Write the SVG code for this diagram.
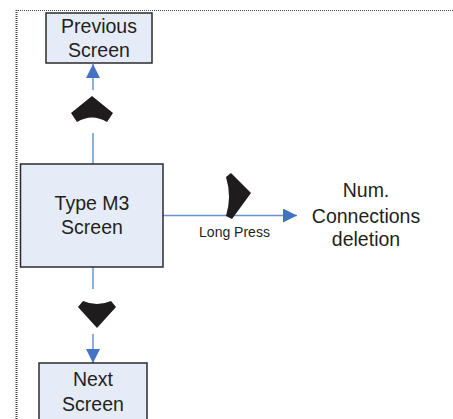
<svg xmlns="http://www.w3.org/2000/svg" width="453" height="419" viewBox="0 0 453 419">
  <style>
    .box { fill: #e6ecf7; stroke: #2b2b2b; stroke-width: 1.5; }
    .lbl { font-family: "Liberation Sans", Arial, sans-serif; font-size: 19.5px; fill: #231f20; text-anchor: middle; }
    .small { font-family: "Liberation Sans", Arial, sans-serif; font-size: 14px; fill: #231f20; text-anchor: middle; }
    .conn { stroke: #6a93cf; stroke-width: 1.5; fill: none; }
    .key { fill: #1e1c1c; }
    .frame { stroke: #4a4a4a; stroke-dasharray: 1 1; fill: none; }
  </style>
  <defs>
    <marker id="arr" markerUnits="userSpaceOnUse" markerWidth="14" markerHeight="14" refX="14" refY="7" orient="auto">
      <path d="M0,0 L14,7 L0,14 Z" fill="#4472c4"/>
    </marker>
  </defs>
  <rect width="453" height="419" fill="#ffffff"/>
  <g id="frame">
    <line class="frame" x1="16" y1="10.5" x2="453" y2="10.5" stroke-width="1.2"/>
    <line class="frame" x1="16.5" y1="10" x2="16.5" y2="419" stroke-width="2"/>
  </g>
  <g id="connectors">
    <path class="conn" d="M93,90 L93,64" marker-end="url(#arr)"/>
    <path class="conn" d="M93,133 L93,164"/>
    <path class="conn" d="M93,267 L93,289"/>
    <path class="conn" d="M93,334 L93,363" marker-end="url(#arr)"/>
    <path class="conn" d="M163,215.5 L297,215.5" marker-end="url(#arr)"/>
    <text class="small" x="234.5" y="237">Long Press</text>
  </g>
  <g id="keys">
    <path class="key" d="M92,96 L71,113 L77,122 Q92,113 107,122 L113,113 Z"/>
    <path class="key" d="M83,301 L78,307 L97,328 L116,307 L111,301 Q97,307 83,301 Z"/>
    <path class="key" d="M226,177 L231,173 L251,193 L232,219 L226,216 Q232,196.5 226,177 Z"/>
  </g>
  <g id="previous">
    <rect class="box" x="46" y="13" width="106" height="50"/>
    <text class="lbl" x="99" y="33">Previous</text>
    <text class="lbl" x="99" y="57">Screen</text>
  </g>
  <g id="typem3">
    <rect class="box" x="20.5" y="164" width="142.5" height="103"/>
    <text class="lbl" x="92" y="210">Type M3</text>
    <text class="lbl" x="92" y="234">Screen</text>
  </g>
  <g id="numconn">
    <text class="lbl" x="366" y="197">Num.</text>
    <text class="lbl" x="366" y="222.5">Connections</text>
    <text class="lbl" x="366" y="246">deletion</text>
  </g>
  <g id="next">
    <rect class="box" x="39" y="363" width="108" height="70"/>
    <text class="lbl" x="93" y="386">Next</text>
    <text class="lbl" x="93" y="411">Screen</text>
  </g>
</svg>
